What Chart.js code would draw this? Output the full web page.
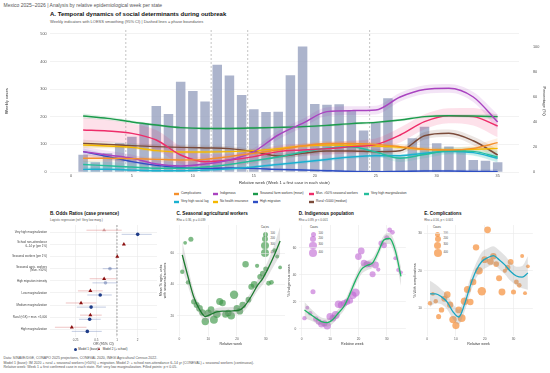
<!DOCTYPE html>
<html><head><meta charset="utf-8">
<script src="https://cdn.jsdelivr.net/npm/chart.js@4.4.1/dist/chart.umd.min.js"></script>
<style>
html,body{margin:0;padding:0;background:#fff;}
body{width:550px;height:373px;position:relative;overflow:hidden;font-family:"Liberation Sans",Arial,Helvetica,sans-serif;}
.t{position:absolute;white-space:nowrap;line-height:1;}
canvas{position:absolute;}
.key{position:absolute;width:5px;height:3.4px;}
.key i{position:absolute;left:0;right:0;top:1.1px;height:1.2px;}
.bub{position:absolute;border-radius:50%;}
</style></head><body>
<div class="t" style="left:3.5px;top:2.6px;font-size:5px;color:#555">Mexico 2025–2026 | Analysis by relative epidemiological week per state</div>
<div class="t" style="left:50px;top:11px;font-size:6px;font-weight:bold;color:#111">A. Temporal dynamics of social determinants during outbreak</div>
<div class="t" style="left:50px;top:20px;font-size:4px;color:#555">Weekly indicators with LOESS smoothing (95% CI) | Dashed lines = phase boundaries</div>
<div id="legA"></div>
<div class="t" style="left:50px;top:211.5px;font-size:4.6px;font-weight:bold;color:#111">B. Odds Ratios (case presence)</div>
<div class="t" style="left:50px;top:218.6px;font-size:3px;color:#555">Logistic regression (ref: Very low marg.)</div>
<div class="t" style="left:176.5px;top:211.5px;font-size:4.6px;font-weight:bold;color:#111">C. Seasonal agricultural workers</div>
<div class="t" style="left:176.5px;top:218.6px;font-size:3px;color:#555">Rho = 0.36, p = 0.039</div>
<div class="t" style="left:298.8px;top:211.5px;font-size:4.6px;font-weight:bold;color:#111">D. Indigenous population</div>
<div class="t" style="left:298.8px;top:218.6px;font-size:3px;color:#555">Rho = 0.89, p &lt; 0.001</div>
<div class="t" style="left:424.2px;top:211.5px;font-size:4.6px;font-weight:bold;color:#111">E. Complications</div>
<div class="t" style="left:424.2px;top:218.6px;font-size:3px;color:#555">Rho = 0.56, p &lt; 0.001</div>
<div id="legB"></div>
<div id="bubLeg"></div>
<div class="t" style="left:3.5px;top:357.3px;font-size:3.5px;color:#555">Data: SINAVE/DGE, CONAPO 2025 projections, CONEVAL 2020, INEGI Agricultural Census 2022.</div>
<div class="t" style="left:3.5px;top:361.8px;font-size:3.5px;color:#555">Model 1 (base): IM 2020 + rural + seasonal workers (&gt;50%) + migration. Model 2: + school non-attendance 6–14 yr (CONEVAL) + seasonal workers (continuous).</div>
<div class="t" style="left:3.5px;top:366.3px;font-size:3.5px;color:#555">Relative week: Week 1 = first confirmed case in each state. Ref: very low marginalization. Filled points: p &lt; 0.05.</div>
<script>
// ---------------- DATA ----------------
const weeks = [1,2,3,4,5,6,7,8,9,10,11,12,13,14,15,16,17,18,19,20,21,22,23,24,25,26,27,28,29,30,31,32,33,34,35];
const weeklyCases = [62,35,68,104,128,176,239,210,327,293,255,388,349,279,227,217,218,350,454,246,243,245,221,150,179,267,55,122,164,104,92,80,43,41,35];
const xTicksA = [0,5,10,15,20,25,30,35];
const yTicksCases = [0,100,200,300,400,500];
const yTicksPct = [0,20,40,60,80,100];
const phaseBoundaries = [4.5,11.5,14.5,24.5];

const smoothWeeks = [1,3,5,7,9,11,13,15,17,19,21,23,25,27,29,31,33,35];
const seriesNames = ["Complications","Indigenous","Seasonal farm workers (mean)","Mun. >50% seasonal workers","Very high marginalization","Very high social lag","No health insurance","High migration","Rural <5000 (median)"];
const seriesColors = ["#F5902C","#A943C0","#1B9A4B","#EE2D6A","#25BE9C","#1AB1D0","#F5B800","#2E4EC4","#7B4B3A"];
const complications = [11,11,10.7,10.1,9.6,10.1,12.3,14.9,17.6,20.8,22.9,22.9,22.1,20.3,18.1,17.6,18.9,23.5];
const indigenous = [16.3,13.6,11,6.4,4.8,6.4,9.6,16.3,29.6,38.9,48.3,49.1,49.6,60,66,67,60,40];
const seasonalMean = [44.8,42.9,40,37.6,35.5,34.9,34.9,35.2,35.7,36.3,37.3,38.7,39.7,41.6,44.3,45.1,44.8,44.3];
const mun50 = [33.6,32.8,30.9,25.6,13.6,8.3,9.6,12.3,16.3,17.6,18.7,20.3,21.9,29.6,40.3,45.1,44.3,36.8];
const veryHighMarg = [6,5,4,3,3,4,6,9,12,16,19,20,16,11,14,17,16.5,12];
const veryHighLag = [2.1,2.2,1.5,1,1,1.5,2.5,4,6,8,10,12,13,13,15,16.5,15.5,11];
const noInsurance = [21.6,20.8,19.7,17.1,16,16,16.3,17.1,18.7,20.8,21.6,21.4,20.8,19.7,18.1,17.6,18.1,18.9];
const highMigration = [16.3,12.3,8.3,5.3,3.5,2.9,3.2,2.9,2.1,1.6,1,0.5,0.3,0.5,0.8,0.8,0.5,0.3];
const rural = [22.9,22.1,21.1,20.3,19.7,19.2,18.7,16.3,12.8,14.9,16.8,16.8,16.3,17,29,31,25,13.6];
// half-width of 95% CI bands (percentage points)
const ciComplications = [3,2.5,2,2,2,2,2,2,2,2,2,2,2,2,2,2,2.5,3.5];
const ciIndigenous = [4,3.5,3,3,3,3,3,3,3.5,3.5,3.5,3.5,3.5,3.5,3.5,3.5,4,6];
const ciSeasonal = [2,1.5,1.2,1,1,1,1,1,1,1,1,1,1,1,1,1.2,1.5,2];
const ciMun50 = [10,9,8,8,7,6,5,5,5,5,5,5,5,6,6,6,7,9];
const ciVHMarg = [3,3,3,3,3,3,3,3,3,3,3,3,3,3,3,3,3.5,4.5];
const ciVHLag = [2,2,1.5,1.5,1.5,1.5,1.5,1.5,1.5,1.5,1.5,1.5,1.5,1.5,1.5,2,2,3];
const ciInsurance = [2.5,2,1.5,1.5,1.5,1.5,1.5,1.5,1.5,1.5,1.5,1.5,1.5,1.5,1.5,1.5,2,3];
const ciMigration = [2.5,2,1.5,1,1,1,1,1,1,1,1,1,1,1,1,1,1.5,2];
const ciRural = [3,2.5,2,2,2,2,2,2,2,2,2,2,2,2.5,3,3,3.5,4.5];

// Panel B
const orCategories = [["Very high marginalization"],["School non-attendance","6–14 yr (per 1%)"],["Seasonal workers (per 1%)"],["Seasonal agric. workers","(Mun. >50%)"],["High migration intensity"],["Low marginalization"],["Medium marginalization"],["Rural (<5K) × mun. <5,000"],["High marginalization"]];
const orTicks = [0.25,0.5,1,2];
const m1OR = [2.0,null,null,0.79,0.68,0.57,0.42,0.40,0.37];
const m1Lo = [1.17,null,null,0.62,0.44,0.37,0.26,0.28,0.22];
const m1Hi = [3.2,null,null,1.03,1.02,0.84,0.69,0.58,0.60];
const m1Sig = [true,false,false,false,false,true,true,true,true];
const m2OR = [0.65,1.26,1.01,null,0.65,0.41,0.30,0.41,0.22];
const m2Lo = [0.36,1.2,1.005,null,0.40,0.27,0.18,0.29,0.125];
const m2Hi = [1.17,1.33,1.02,null,0.97,0.62,0.50,0.60,0.36];
const m2Sig = [false,true,true,false,true,true,true,true,true];

// Panels C, D, E (weekly values)
const xTicksSmall = [0,10,20,30];
const cValues = [48.2,66.8,41.4,69,29,26.9,24.7,22.1,16.3,21.7,23.9,17.4,21,29.2,28.2,20.8,21.7,20,33.5,24.7,22.9,26.9,53,30.3,38.6,40.1,52,45,47,50,40.8,41.4,62,58,51];
const cSmooth = [59,45,32,24,19.5,21,22.5,23,23,23.2,23.7,27,32.5,39,44,51,59,68];
const cCI = [9,6,4,3,3,2.5,2.5,2.5,2.5,2.5,2.5,3,3,3.5,4,5,6.5,9];
const cYTicks = [20,40,60];
const dValues = [8,15.8,11.6,27.6,7.4,5.4,3.5,4.2,2.4,9.1,8,10.4,18.3,17.8,19,20.2,21,25,26.9,53.6,57.8,48.7,48,47.9,40.5,47.4,44,63.5,62,67.6,73.3,71.6,52.4,43.7,42];
const dSmooth = [14,11,8,5.5,4.7,7,12,17,26,36,44,47,49,57,66,67,58,39];
const dCI = [6,4.5,3.5,3,3,3,3,3,3.5,3.5,3.5,3.5,3.5,3.5,3.5,4,5,7];
const dYTicks = [0,20,40,60];
const eValues = [11.3,13.8,11.8,7.7,9.5,12.5,13.6,10.9,6.9,5.3,9.5,7.3,11.8,15,11.6,17,26.3,20,14.5,23,31,22.5,23.9,21.8,18,14.3,20,20.9,22.4,14.3,17,16.1,24,14,21.2];
const eSmooth = [13.8,13.8,13,11.6,9,7.6,11,16,20,22.5,23.5,24.1,23,21.6,19.8,18.6,18.3,19.4];
const eCI = [3.5,2.5,2,2,2,2,2,2,2,2.5,2.5,2.5,2.5,2.5,2.5,2.5,3,4.5];
const eYTicks = [10,20,30];
const bubbleLegendCases = [100,200,300,400];

// ---------------- HELPERS ----------------
const FONT = '"Liberation Sans", Arial, Helvetica, sans-serif';
Chart.defaults.font.family = FONT;
Chart.defaults.animation = false;
Chart.defaults.responsive = false;
Chart.defaults.events = [];
Chart.defaults.plugins.legend.display = false;
Chart.defaults.plugins.tooltip.enabled = false;

function hexA(h,a){const n=parseInt(h.slice(1),16);return `rgba(${n>>16&255},${n>>8&255},${n&255},${a})`;}
function mkCanvas(left,top,w,h){const c=document.createElement('canvas');c.width=w;c.height=h;c.style.left=left+'px';c.style.top=top+'px';c.style.width=w+'px';c.style.height=h+'px';document.body.appendChild(c);return c;}
function setTicks(arr){return s=>{s.ticks=arr.map(v=>({value:v}));};}
const bubbleR = c => 1 + 0.15*Math.sqrt(c);
const tickCol = '#555', titleCol = '#333', gridCol = '#e9e9e9';

// ---------------- PANEL A ----------------
const seriesValues = [complications,indigenous,seasonalMean,mun50,veryHighMarg,veryHighLag,noInsurance,highMigration,rural];
const seriesCI = [ciComplications,ciIndigenous,ciSeasonal,ciMun50,ciVHMarg,ciVHLag,ciInsurance,ciMigration,ciRural];
const dsA = [{type:'bar',data:weeks.map((w,i)=>({x:w,y:weeklyCases[i]})),yAxisID:'y',backgroundColor:'rgba(140,151,184,0.72)',borderWidth:0,barPercentage:0.78,categoryPercentage:1,order:100}];
seriesValues.forEach((vals,k)=>{
  dsA.push({type:'line',data:smoothWeeks.map((w,i)=>({x:w,y:vals[i]-seriesCI[k][i]})),yAxisID:'y1',borderWidth:0,pointRadius:0,fill:false,cubicInterpolationMode:'monotone',order:50});
  dsA.push({type:'line',data:smoothWeeks.map((w,i)=>({x:w,y:vals[i]+seriesCI[k][i]})),yAxisID:'y1',borderWidth:0,pointRadius:0,fill:'-1',backgroundColor:hexA(seriesColors[k],0.14),cubicInterpolationMode:'monotone',order:50});
});
seriesValues.forEach((vals,k)=>{
  dsA.push({type:'line',data:smoothWeeks.map((w,i)=>({x:w,y:vals[i]})),yAxisID:'y1',borderColor:seriesColors[k],borderWidth:1.5,pointRadius:0,fill:false,cubicInterpolationMode:'monotone',order:10});
});
const phasePlugin = {id:'phases',afterDatasetDraw(chart,args){
  if(args.index!==0) return;
  const {ctx,chartArea:a,scales:{x}}=chart;
  ctx.save();ctx.strokeStyle='#9a9a9a';ctx.lineWidth=0.6;ctx.setLineDash([2,2]);
  phaseBoundaries.forEach(v=>{const px=x.getPixelForValue(v);ctx.beginPath();ctx.moveTo(px,a.top);ctx.lineTo(px,a.bottom);ctx.stroke();});
  ctx.restore();
}};
new Chart(mkCanvas(0,0,550,190),{type:'bar',data:{datasets:dsA},plugins:[phasePlugin],options:{
  devicePixelRatio:1,layout:{padding:{top:30,left:0,right:0,bottom:0}},
  scales:{
    x:{type:'linear',min:-1.75,max:36.75,offset:false,afterBuildTicks:setTicks(xTicksA),
       ticks:{font:{size:3.8},color:tickCol,padding:1.2,maxRotation:0},grid:{display:false,drawTicks:false},border:{display:false},
       title:{display:true,text:'Relative week (Week 1 = first case in each state)',font:{size:4.2},color:titleCol,padding:{top:0,bottom:4.5}},
       afterFit:s=>{s.height=18;}},
    y:{type:'linear',position:'left',min:0,max:514,afterBuildTicks:setTicks(yTicksCases),
       ticks:{font:{size:3.8},color:tickCol,padding:3},grid:{color:gridCol,lineWidth:0.6,drawTicks:false},border:{display:false},
       title:{display:true,text:'Weekly cases',font:{size:4.2},color:titleCol,padding:{top:4,bottom:0}},afterFit:s=>{s.width=49.6;}},
    y1:{type:'linear',position:'right',min:0,max:113.6,afterBuildTicks:setTicks(yTicksPct),
       ticks:{font:{size:3.8},color:tickCol,padding:14},grid:{display:false,drawTicks:false},border:{display:false},
       title:{display:true,text:'Percentage (%)',font:{size:4.2},color:titleCol,padding:{top:3,bottom:0}},afterFit:s=>{s.width=31;}}
  }}});

// legend A
(function(){
  const colX=[174,213,253,309,364], rowY=[192.3,200.3];
  let h='';
  seriesNames.forEach((n,k)=>{const r=Math.floor(k/5),c=k%5;
    h+=`<div class="key" style="left:${colX[c]}px;top:${rowY[r]}px;background:${hexA(seriesColors[k],0.2)}"><i style="background:${seriesColors[k]}"></i></div>`;
    h+=`<div class="t" style="left:${colX[c]+7}px;top:${rowY[r]+0.1}px;font-size:3.2px;color:#333">${n.replace('<','&lt;').replace('>','&gt;')}</div>`;});
  document.getElementById('legA').innerHTML=h;
})();

// ---------------- PANEL B ----------------
function dodge(i,model){const both=m1OR[i]!==null&&m2OR[i]!==null;return (i+1)+(both?(model===1?0.17:-0.17):0);}
const m1Pts=[],m1Col=[],m2Pts=[],m2Col=[];
orCategories.forEach((c,i)=>{
  if(m1OR[i]!==null){m1Pts.push({x:m1OR[i],y:dodge(i,1)});m1Col.push(m1Sig[i]?'#1F3C88':'rgba(31,60,136,0.35)');}
  if(m2OR[i]!==null){m2Pts.push({x:m2OR[i],y:dodge(i,2)});m2Col.push(m2Sig[i]?'#8B1010':'rgba(139,16,16,0.35)');}
});
const errPlugin={id:'err',beforeDatasetsDraw(chart){
  const {ctx,chartArea:a,scales:{x,y}}=chart;
  ctx.save();
  ctx.strokeStyle='#666';ctx.lineWidth=0.6;ctx.setLineDash([2,1.5]);
  const p1=x.getPixelForValue(1);ctx.beginPath();ctx.moveTo(p1,a.top);ctx.lineTo(p1,a.bottom);ctx.stroke();
  ctx.setLineDash([]);ctx.lineWidth=0.9;
  orCategories.forEach((c,i)=>{
    if(m1OR[i]!==null){ctx.strokeStyle='rgba(110,130,185,0.45)';const yy=y.getPixelForValue(dodge(i,1));ctx.beginPath();ctx.moveTo(x.getPixelForValue(m1Lo[i]),yy);ctx.lineTo(x.getPixelForValue(m1Hi[i]),yy);ctx.stroke();}
    if(m2OR[i]!==null){ctx.strokeStyle='rgba(215,110,110,0.45)';const yy=y.getPixelForValue(dodge(i,2));ctx.beginPath();ctx.moveTo(x.getPixelForValue(m2Lo[i]),yy);ctx.lineTo(x.getPixelForValue(m2Hi[i]),yy);ctx.stroke();}
  });
  ctx.restore();
}};
new Chart(mkCanvas(0,205,170,145),{type:'scatter',data:{datasets:[
  {data:m2Pts,pointStyle:'triangle',pointRadius:2.3,backgroundColor:m2Col,borderColor:m2Col,borderWidth:0},
  {data:m1Pts,pointStyle:'circle',pointRadius:1.8,backgroundColor:m1Col,borderColor:m1Col,borderWidth:0}
]},plugins:[errPlugin],options:{devicePixelRatio:1,layout:{padding:{top:20,right:13,left:0,bottom:0}},
  scales:{
    x:{type:'logarithmic',min:0.106,max:3.82,afterBuildTicks:setTicks(orTicks),
       ticks:{font:{size:3},color:tickCol,padding:1.5,maxRotation:0,callback:v=>String(v)},grid:{color:gridCol,lineWidth:0.6,drawTicks:false},border:{display:false},
       title:{display:true,text:'OR (95% CI)',font:{size:3.6},color:titleCol,padding:{top:0,bottom:3.8}},afterFit:s=>{s.height=13.4;}},
    y:{type:'linear',reverse:true,min:0.4,max:9.6,afterBuildTicks:setTicks([1,2,3,4,5,6,7,8,9]),
       ticks:{font:{size:2.9},color:'#444',padding:3,callback:v=>orCategories[Math.round(v)-1]},grid:{color:gridCol,lineWidth:0.6,drawTicks:false},border:{display:false},afterFit:s=>{s.width=50;}}
  }}});
document.getElementById('legB').innerHTML=
 `<div class="bub" style="left:73.5px;top:347.5px;width:3px;height:3px;background:#1F3C88"></div>
  <div class="t" style="left:78.3px;top:347.6px;font-size:3px;color:#333">Model 1 (base)</div>
  <div style="position:absolute;left:97.6px;top:347.2px;width:0;height:0;border-left:1.7px solid transparent;border-right:1.7px solid transparent;border-bottom:3px solid #8B1010"></div>
  <div class="t" style="left:102.7px;top:347.6px;font-size:3px;color:#333">Model 2 (+ school)</div>`;

// ---------------- PANELS C, D, E ----------------
function scatterPanel(opt){
  const ds=[
    {type:'line',data:smoothWeeks.map((w,i)=>({x:w,y:opt.smooth[i]-opt.ci[i]})),borderWidth:0,pointRadius:0,fill:false,cubicInterpolationMode:'monotone',order:2},
    {type:'line',data:smoothWeeks.map((w,i)=>({x:w,y:opt.smooth[i]+opt.ci[i]})),borderWidth:0,pointRadius:0,fill:'-1',backgroundColor:'rgba(150,150,150,0.28)',cubicInterpolationMode:'monotone',order:2},
    {type:'line',data:smoothWeeks.map((w,i)=>({x:w,y:opt.smooth[i]})),borderColor:opt.lineCol,borderWidth:1.3,pointRadius:0,fill:false,cubicInterpolationMode:'monotone',order:1},
    {type:'scatter',data:weeks.map((w,i)=>({x:w,y:opt.values[i]})),pointRadius:ctx=>bubbleR(weeklyCases[ctx.dataIndex]),backgroundColor:opt.ptCol,borderWidth:0,order:3}
  ];
  new Chart(mkCanvas(opt.left,205,opt.w,145),{type:'scatter',data:{datasets:ds},options:{devicePixelRatio:1,
    layout:{padding:{top:20,right:opt.padR,left:0,bottom:0}},
    scales:{
      x:{type:'linear',min:-1,max:36.7,afterBuildTicks:setTicks(xTicksSmall),ticks:{font:{size:3.2},color:tickCol,padding:1.5,maxRotation:0},
         grid:{color:gridCol,lineWidth:0.6,drawTicks:false},border:{display:false},
         title:{display:true,text:'Relative week',font:{size:3.6},color:titleCol,padding:{top:0,bottom:3.6}},afterFit:s=>{s.height=14;}},
      y:{type:'linear',min:opt.ymin,max:opt.ymax,afterBuildTicks:setTicks(opt.yTicks),ticks:{font:{size:3.2},color:tickCol,padding:2.5},
         grid:{color:gridCol,lineWidth:0.6,drawTicks:false},border:{display:false},
         title:{display:true,text:opt.ytitle,font:{size:3.6},color:titleCol,padding:{top:opt.tpad,bottom:0}},afterFit:s=>{s.width=opt.yw;}}
    }}});
}
scatterPanel({left:150,w:140,padR:5,yw:26.5,tpad:8.5,values:cValues,smooth:cSmooth,ci:cCI,yTicks:cYTicks,ymin:7,ymax:78.2,
  ytitle:['Mean % agric. units','with seasonal workers'],lineCol:'#1E7B30',ptCol:'rgba(60,150,70,0.65)'});
scatterPanel({left:275,w:135,padR:3,yw:23.8,tpad:12.2,values:dValues,smooth:dSmooth,ci:dCI,yTicks:dYTicks,ymin:-5.2,ymax:77,
  ytitle:'% Indigenous cases',lineCol:'#1FB466',ptCol:'rgba(190,100,210,0.6)'});
scatterPanel({left:402,w:148,padR:17.2,yw:22.2,tpad:10.6,values:eValues,smooth:eSmooth,ci:eCI,yTicks:eYTicks,ymin:2.5,ymax:32.3,
  ytitle:'% With complications',lineCol:'#1AA6C2',ptCol:'rgba(245,150,70,0.75)'});

// bubble size legends
(function(){
  const defs=[{tx:261,cx:265,lx:270.5,col:'rgba(60,150,70,0.65)'},{tx:310,cx:313,lx:318.5,col:'rgba(190,100,210,0.6)'},{tx:433,cx:437.7,lx:443.5,col:'rgba(245,150,70,0.75)'}];
  const ys=[234,239.3,245.7,253];
  let h='';
  defs.forEach(d=>{
    h+=`<div class="t" style="left:${d.tx}px;top:225.8px;font-size:2.8px;color:#333">Cases</div>`;
    bubbleLegendCases.forEach((c,i)=>{const r=bubbleR(c);
      h+=`<div class="bub" style="left:${d.cx-r}px;top:${ys[i]-r}px;width:${2*r}px;height:${2*r}px;background:${d.col}"></div>`;
      h+=`<div class="t" style="left:${d.lx}px;top:${ys[i]-1.3}px;font-size:2.6px;color:#444">${c}</div>`;});
  });
  document.getElementById('bubLeg').innerHTML=h;
})();
</script>
</body></html>
